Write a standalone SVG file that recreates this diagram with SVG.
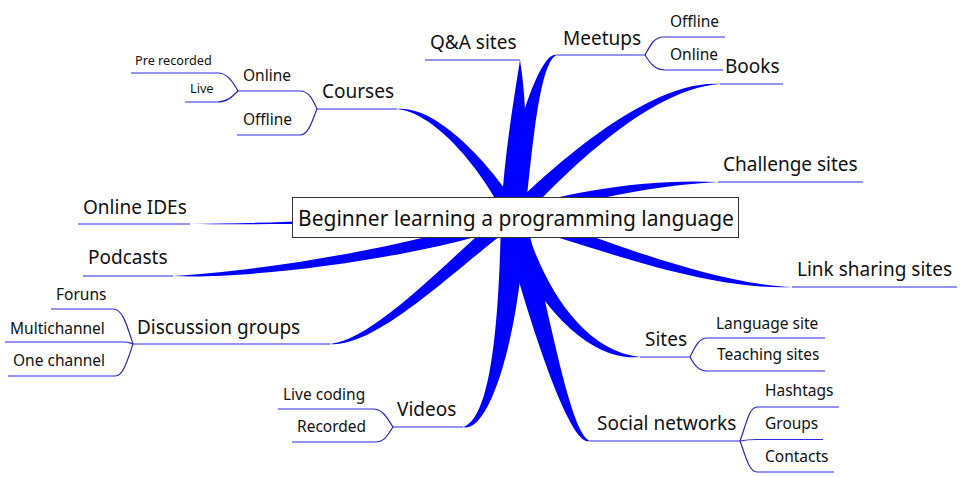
<svg xmlns="http://www.w3.org/2000/svg" width="961" height="477" viewBox="0 0 961 477">
<style>
text{font-family:"Noto Sans","Open Sans","DejaVu Sans",sans-serif;fill:#111}
.t1{font-size:19px}
.t0{font-size:21px}
.t2{font-size:15.5px}
.t3{font-size:12.7px}
.br{fill:#0000ff;stroke:none}
.ul{fill:none;stroke:#2a2ae6;stroke-width:1.1}
.th{fill:none;stroke:#2626c0;stroke-width:1.2}
</style>
<rect width="961" height="477" fill="#fff"/>
<g id="connectors">
<path class="br" d="M525,217.4 C526,160.4 528,110 520,60 C512,110 504,159.6 501,216.6Z"/>
<path class="br" d="M524.9,218.4 C532.9,141.3 540,61 557,55 C540,49 511.1,138.7 501.1,215.6Z"/>
<path class="br" d="M518.7,222.7 C540,200 640,89 720,84 C640,79 530,190 507.3,211.3Z"/>
<path class="br" d="M515.4,223.6 C562,205.6 640,186 718,182 C640,178 558,194.4 510.6,210.4Z"/>
<path class="br" d="M511.2,223.8 C578.4,240.8 700,291 792,287 C700,283 581.6,229.2 514.8,210.2Z"/>
<path class="br" d="M503.3,219.6 C521.3,282.3 580,363 640,357 C580,351 538.7,277.7 522.7,214.4Z"/>
<path class="br" d="M501.4,220 C529.4,322.8 570,449 590,441 C570,433 550.6,317.2 524.6,214Z"/>
<path class="br" d="M501,216.7 C499,329.7 490,419 463,427 C490,435 521,330.3 525,217.3Z"/>
<path class="br" d="M508.6,210.3 C466.2,239.1 380,339 330,344 C380,349 473.8,250.9 517.4,223.7Z"/>
<path class="br" d="M510.3,210.6 C437.7,242.5 260,272 173,276 C260,280 442.3,253.5 515.7,223.4Z"/>
<path class="br" d="M513,212 C430,216 290,223 190,224 C290,225 430,222 513,222Z"/>
<path class="br" d="M520.5,214.3 C511.6,192.6 445,104 397,109 C445,114 498.4,197.4 505.5,219.7Z"/>
<path class="th" d="M300,91 C309,91 313,100 317,109"/>
<path class="th" d="M300,135 C309,135 313,118 317,109"/>
<path class="th" d="M218,73 C227,73 233,82 238,91"/>
<path class="th" d="M218,102 C227,102 233,96 238,91"/>
<path class="th" d="M645,55 C650,46 654,37 663,37"/>
<path class="th" d="M645,55 C650,63 655,70 665,70"/>
<path class="th" d="M690,357 C695,347 699,338 707,338"/>
<path class="th" d="M690,357 C695,366 699,371 707,371"/>
<path class="th" d="M740,441 C746,425 749,407 757,407"/>
<path class="th" d="M740,441 C745,440 750,439.5 757,439.5"/>
<path class="th" d="M740,441 C746,457 749,472 757,472"/>
<path class="th" d="M393,427 C387,418 383,409 373,409"/>
<path class="th" d="M393,427 C387,436 384,442 375,442"/>
<path class="th" d="M133,344 C127,326 123,309 113,309"/>
<path class="th" d="M133,344 C130,343 128,342 125,342"/>
<path class="th" d="M133,344 C127,362 123,376 115,376"/>
</g>
<g id="root">
<rect x="292.5" y="197.5" width="446" height="40" fill="#fff" stroke="#333" stroke-width="1"/>
<text class="t0" x="298" y="226">Beginner learning a programming language</text>
</g>
<g id="qa"><line class="ul" x1="425" y1="60" x2="520" y2="60"/><text class="t1" x="430" y="49">Q&amp;A sites</text></g>
<g id="meetups"><line class="ul" x1="557" y1="55" x2="645" y2="55"/><text class="t1" x="563" y="44.5">Meetups</text></g>
<g id="meetups-offline"><line class="ul" x1="663" y1="37" x2="725" y2="37"/><text class="t2" x="670" y="27">Offline</text></g>
<g id="meetups-online"><line class="ul" x1="665" y1="70" x2="723" y2="70"/><text class="t2" x="670" y="59.5">Online</text></g>
<g id="books"><line class="ul" x1="720" y1="84" x2="783" y2="84"/><text class="t1" x="725" y="73">Books</text></g>
<g id="challenge"><line class="ul" x1="718" y1="182" x2="863" y2="182"/><text class="t1" x="723" y="171">Challenge sites</text></g>
<g id="link-sharing"><line class="ul" x1="792" y1="287" x2="957" y2="287"/><text class="t1" x="797" y="276">Link sharing sites</text></g>
<g id="sites"><line class="ul" x1="640" y1="357" x2="690" y2="357"/><text class="t1" x="645" y="346">Sites</text></g>
<g id="language-site"><line class="ul" x1="707" y1="338" x2="825" y2="338"/><text class="t2" x="716" y="328.5">Language site</text></g>
<g id="teaching-sites"><line class="ul" x1="707" y1="371" x2="825" y2="371"/><text class="t2" x="717" y="360">Teaching sites</text></g>
<g id="social"><line class="ul" x1="590" y1="441" x2="740" y2="441"/><text class="t1" x="597" y="429.5">Social networks</text></g>
<g id="hashtags"><line class="ul" x1="757" y1="407" x2="839" y2="407"/><text class="t2" x="765" y="396">Hashtags</text></g>
<g id="groups"><line class="ul" x1="757" y1="439.5" x2="823" y2="439.5"/><text class="t2" x="765" y="428.5">Groups</text></g>
<g id="contacts"><line class="ul" x1="757" y1="472" x2="834" y2="472"/><text class="t2" x="765" y="462">Contacts</text></g>
<g id="videos"><line class="ul" x1="393" y1="427" x2="463" y2="427"/><text class="t1" x="397" y="416">Videos</text></g>
<g id="live-coding"><line class="ul" x1="278" y1="409" x2="373" y2="409"/><text class="t2" x="283" y="400">Live coding</text></g>
<g id="recorded"><line class="ul" x1="292" y1="442" x2="375" y2="442"/><text class="t2" x="297" y="432">Recorded</text></g>
<g id="discussion"><line class="ul" x1="133" y1="344" x2="330" y2="344"/><text class="t1" x="137" y="334">Discussion groups</text></g>
<g id="foruns"><line class="ul" x1="51" y1="309" x2="113" y2="309"/><text class="t2" x="56" y="300">Foruns</text></g>
<g id="multichannel"><line class="ul" x1="5" y1="342" x2="125" y2="342"/><text class="t2" x="10" y="333.5">Multichannel</text></g>
<g id="one-channel"><line class="ul" x1="8" y1="376" x2="115" y2="376"/><text class="t2" x="13" y="366">One channel</text></g>
<g id="podcasts"><line class="ul" x1="83" y1="276" x2="173" y2="276"/><text class="t1" x="88" y="264">Podcasts</text></g>
<g id="online-ides"><line class="ul" x1="78" y1="224" x2="190" y2="224"/><text class="t1" x="83" y="213.5">Online IDEs</text></g>
<g id="courses"><line class="ul" x1="317" y1="109" x2="397" y2="109"/><text class="t1" x="322" y="98">Courses</text></g>
<g id="courses-online"><line class="ul" x1="238" y1="91" x2="300" y2="91"/><text class="t2" x="243" y="81">Online</text></g>
<g id="courses-offline"><line class="ul" x1="237" y1="135" x2="300" y2="135"/><text class="t2" x="243" y="125">Offline</text></g>
<g id="pre-recorded"><line class="ul" x1="131" y1="73" x2="218" y2="73"/><text class="t3" x="135" y="65">Pre recorded</text></g>
<g id="live"><line class="ul" x1="185" y1="102" x2="218" y2="102"/><text class="t3" x="190" y="93">Live</text></g>
</svg>
